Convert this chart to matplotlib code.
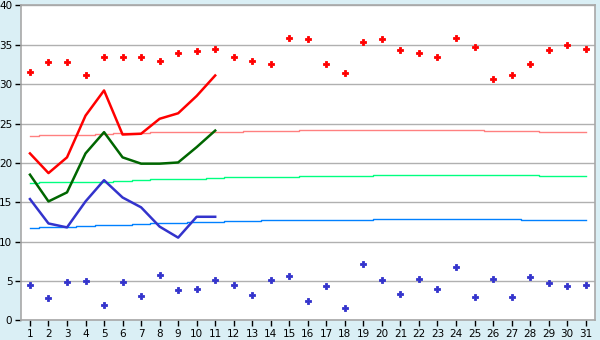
import numpy as np
import matplotlib
matplotlib.use("Agg")
import matplotlib.pyplot as plt

days = list(range(1, 32))

# scatter series (all 31 days)
high_pts = [31.6, 32.8, 32.8, 31.2, 33.4, 33.4, 33.4, 32.9, 33.9, 34.2,
            34.5, 33.4, 32.9, 32.6, 35.8, 35.7, 32.6, 31.4, 35.3, 35.7,
            34.4, 33.9, 33.4, 35.8, 34.7, 30.6, 31.2, 32.5, 34.4, 35.0, 34.5]
low_pts = [4.44, 2.79, 4.83, 4.95, 1.90, 4.83, 3.05, 5.71, 3.81, 3.94,
           5.08, 4.44, 3.17, 5.08, 5.59, 2.41, 4.32, 1.52, 7.11, 5.08,
           3.30, 5.21, 3.94, 6.73, 2.92, 5.21, 2.92, 5.46, 4.70, 4.32, 4.44]

# current-month lines (days 1..11)
red_line = [21.2, 18.7, 20.7, 26.0, 29.2, 23.6, 23.7, 25.6, 26.3, 28.5, 31.1]
green_line = [18.5, 15.1, 16.25, 21.2, 23.9, 20.7, 19.9, 19.9, 20.05, 22.0, 24.1]
blue_line = [15.4, 12.3, 11.8, 15.1, 17.8, 15.6, 14.35, 11.9, 10.5, 13.15, 13.15]

# long-term normals (thin lines)
norm_high = [23.45, 23.55, 23.55, 23.55, 23.65, 23.8, 23.8, 23.9, 23.9, 23.9,
             23.95, 23.95, 24.1, 24.1, 24.1, 24.2, 24.2, 24.2, 24.2, 24.2,
             24.2, 24.2, 24.2, 24.2, 24.2, 24.1, 24.1, 24.1, 23.95, 23.95, 23.95]
norm_mean = [17.5, 17.55, 17.6, 17.6, 17.6, 17.7, 17.8, 17.9, 18.0, 18.0,
             18.1, 18.2, 18.2, 18.2, 18.2, 18.3, 18.3, 18.3, 18.3, 18.4,
             18.4, 18.4, 18.4, 18.4, 18.4, 18.4, 18.4, 18.4, 18.3, 18.3, 18.3]
norm_low = [11.75, 11.9, 11.9, 12.0, 12.05, 12.15, 12.2, 12.3, 12.4, 12.5,
            12.5, 12.6, 12.6, 12.75, 12.75, 12.75, 12.75, 12.75, 12.75, 12.85,
            12.85, 12.85, 12.85, 12.85, 12.85, 12.85, 12.85, 12.75, 12.75, 12.75, 12.75]

BG = "#daeff5"
fig = plt.figure(figsize=(6, 3.4), dpi=100, facecolor=BG)
ax = fig.add_axes([0.0345, 0.058, 0.957, 0.926])
ax.set_facecolor("white")

ax.yaxis.grid(True, color="#b0b0b0", lw=1.0)
ax.set_axisbelow(True)

ax.plot(days, norm_high, color="#ff8080", lw=1.0, drawstyle="steps-mid")
ax.plot(days, norm_mean, color="#00ff80", lw=1.0, drawstyle="steps-mid")
ax.plot(days, norm_low, color="#0080ff", lw=1.0, drawstyle="steps-mid")

d11 = days[:len(red_line)]
ax.plot(d11, red_line, color="#ff0000", lw=1.8)
ax.plot(d11, green_line, color="#006600", lw=1.8)
ax.plot(d11, blue_line, color="#3333cc", lw=1.8)

ax.plot(days, high_pts, ls="none", marker="P", ms=5, color="#ff0000",
        mec="#ff0000", mew=0.6)
ax.plot(days, low_pts, ls="none", marker="P", ms=5, color="#3333cc",
        mec="#3333cc", mew=0.6)

ax.set_xlim(0.5, 31.5)
ax.set_ylim(0, 40)
ax.set_xticks(days)
ax.set_yticks(range(0, 41, 5))
ax.tick_params(labelsize=7.5, length=4, width=1, color="black", pad=2)
for s in ax.spines.values():
    s.set_color("#a8a8a8")
    s.set_linewidth(1.2)

fig.savefig("out.png", dpi=100, facecolor=BG)
